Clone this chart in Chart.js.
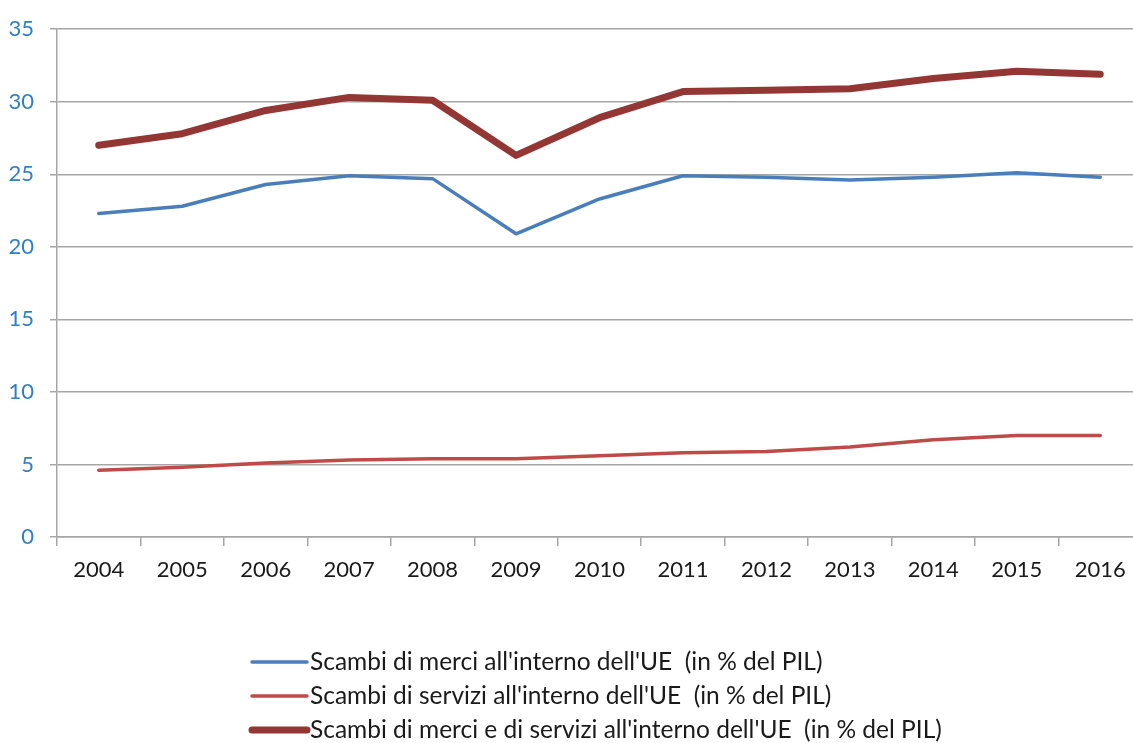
<!DOCTYPE html>
<html>
<head>
<meta charset="utf-8">
<script src="https://cdn.jsdelivr.net/npm/chart.js@4.4.1/dist/chart.umd.min.js"></script>
<style>
html,body{margin:0;padding:0;background:#fff;overflow:hidden;}
#wrap{position:absolute;left:0;top:0;width:1142px;height:743px;}
</style>
</head>
<body>
<div id="wrap"><canvas id="c"></canvas></div>
<script>
const years = ['2004','2005','2006','2007','2008','2009','2010','2011','2012','2013','2014','2015','2016'];
const merci = [22.3,22.8,24.3,24.9,24.7,20.9,23.3,24.9,24.8,24.6,24.8,25.1,24.8];
const servizi = [4.6,4.8,5.1,5.3,5.4,5.4,5.6,5.8,5.9,6.2,6.7,7.0,7.0];
const totale = [27.0,27.8,29.4,30.3,30.1,26.3,28.9,30.7,30.8,30.9,31.6,32.1,31.9];
const seriesLabels = [
  "Scambi di merci all'interno dell'UE  (in % del PIL)",
  "Scambi di servizi all'interno dell'UE  (in % del PIL)",
  "Scambi di merci e di servizi all'interno dell'UE  (in % del PIL)"
];
const yMin = 0, yMax = 35, yStep = 5;

const FONT = "Lato, 'Open Sans', sans-serif";

const legendPlugin = {
  id: 'customLegend',
  afterDraw(chart) {
    const ctx = chart.ctx;
    ctx.save();
    const items = chart.data.datasets;
    const x0 = 250, lineLen = 57, rowY = [662, 696, 730];
    items.forEach((ds, i) => {
      const y = rowY[i];
      ctx.strokeStyle = ds.borderColor;
      ctx.lineWidth = ds.legendWidth;
      ctx.lineCap = 'round';
      ctx.beginPath();
      ctx.moveTo(x0 + 2, y);
      ctx.lineTo(x0 + lineLen, y);
      ctx.stroke();
      ctx.fillStyle = '#1a1a1a';
      ctx.font = "24.5px " + FONT;
      ctx.textBaseline = 'middle';
      ctx.textAlign = 'left';
      ctx.fillText(ds.label, x0 + lineLen + 3, y);
    });
    ctx.restore();
  }
};

new Chart(document.getElementById('c'), {
  type: 'line',
  data: {
    labels: years,
    datasets: [
      {label: seriesLabels[0], data: merci, borderColor: '#4a7ebb', borderWidth: 3.5, legendWidth: 3.5},
      {label: seriesLabels[1], data: servizi, borderColor: '#be4b48', borderWidth: 3.5, legendWidth: 3.5},
      {label: seriesLabels[2], data: totale, borderColor: '#943634', borderWidth: 7, legendWidth: 7}
    ].map(d => Object.assign(d, {pointRadius: 0, pointHoverRadius: 0, tension: 0, fill: false,
      borderJoinStyle: 'round', borderCapStyle: 'round'}))
  },
  options: {
    responsive: true,
    maintainAspectRatio: false,
    animation: false,
    devicePixelRatio: 1,
    layout: {padding: {top: 27, right: 0, left: 0, bottom: 130}},
    plugins: {legend: {display: false}, tooltip: {enabled: false}},
    scales: {
      x: {
        type: 'category',
        offset: true,
        grid: {display: true, offset: true, drawOnChartArea: false, drawTicks: true, tickLength: 9, color: '#a6a6a6', lineWidth: 1.5},
        border: {display: true, color: '#a6a6a6', width: 1.5},
        ticks: {color: '#1a1a1a', font: {size: 22, family: FONT}, padding: 11, maxRotation: 0, autoSkip: false},
        afterFit(s) { s.height = 76; }
      },
      y: {
        min: yMin, max: yMax,
        grid: {color: '#a6a6a6', lineWidth: 1.5, tickLength: 7, drawTicks: true},
        border: {display: true, color: '#a6a6a6', width: 1.5},
        ticks: {stepSize: yStep, color: '#2e7fc8', font: {size: 22, family: FONT}, padding: 16},
        afterFit(s) { s.width = 57; }
      }
    }
  },
  plugins: [legendPlugin]
});
</script>
</body>
</html>
